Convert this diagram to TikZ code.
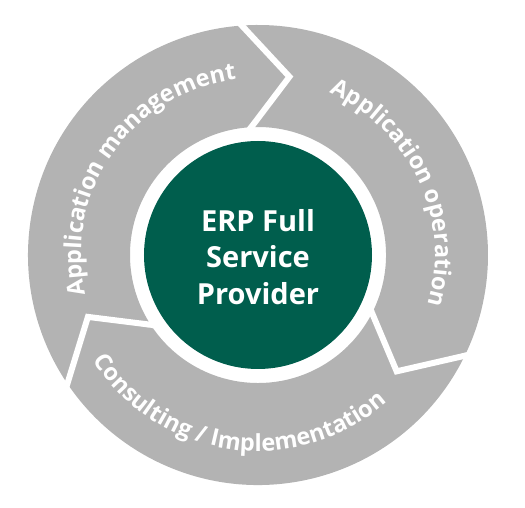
\documentclass[tikz,border=0pt]{standalone}
\usepackage{fontspec}
\setmainfont{Open Sans}
\usepackage{tikz}
\usetikzlibrary{calc,decorations.text}
\definecolor{ringgray}{HTML}{B3B3B3}
\definecolor{erpgreen}{HTML}{005E4D}
\newcommand{\ringfont}{\bfseries\fontsize{23.5}{27}\selectfont}

\begin{document}
\begin{tikzpicture}
	\path [use as bounding box] (-258pt,-253pt) rectangle (267pt,255pt);
	\tikzstyle{segment} = [fill=ringgray]
	\tikzstyle{gap} = [draw=white, line width=6pt, line join=miter]
	\tikzstyle{ringtext} = [decorate, decoration={text along path, text align=center, text color=white}]
	% three arrows, tails at 95, -25 and 215 degrees
	\foreach \a in {95,-25,215}
		\path[segment] (\a:230pt) arc[start angle=\a, end angle=\a-120, radius=230pt]
			-- (\a-135:181pt) -- (\a-120:128pt)
			arc[start angle=\a-120, end angle=\a, radius=128pt]
			-- (\a-15:181pt) -- cycle;
	\foreach \a in {95,-25,215}
		\draw[gap] (\a:235pt) -- (\a-15:181pt) -- (\a:123pt);
	% labels on the ring
	\path[ringtext, decoration={text={|\ringfont|Application management}}]
		(205:177pt) arc[start angle=205, end angle=85, radius=177pt];
	\path[ringtext, decoration={text={|\ringfont|Application operation}}]
		(85:177pt) arc[start angle=85, end angle=-35, radius=177pt];
	\path[ringtext, decoration={text={|\ringfont|Consulting / Implementation}}]
		(202:196pt) arc[start angle=202, end angle=322, radius=196pt];
	% centre
	\node[circle, fill=erpgreen, minimum size=228pt, inner sep=0pt] (erp) at (0,0) {};
	\node[text=white, align=center, font=\bfseries\fontsize{29}{36.7}\selectfont] (erptext) at (0pt,-2pt) {ERP Full\\Service\\Provider};
\end{tikzpicture}
\end{document}
